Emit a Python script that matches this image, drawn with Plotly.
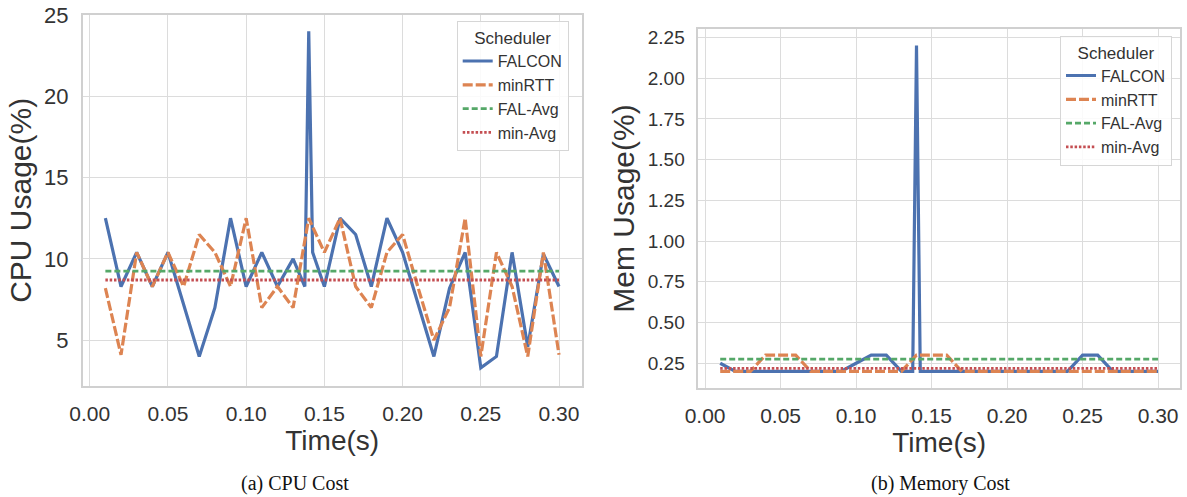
import plotly.graph_objects as go

# ---------------- data ----------------
cpu_time = [0.01, 0.02, 0.03, 0.04, 0.05, 0.06, 0.07, 0.08, 0.09, 0.10,
            0.11, 0.12, 0.13, 0.14, 0.15, 0.16, 0.17, 0.18, 0.19, 0.20,
            0.21, 0.22, 0.23, 0.24, 0.25, 0.26, 0.27, 0.28, 0.29, 0.30]
falcon_time = [0.01, 0.02, 0.03, 0.04, 0.05, 0.06, 0.07, 0.08, 0.09, 0.10,
               0.11, 0.12, 0.13, 0.1375, 0.14, 0.1425, 0.15, 0.16, 0.17, 0.18,
               0.19, 0.20, 0.21, 0.22, 0.23, 0.24, 0.25, 0.26, 0.27, 0.28,
               0.29, 0.30]
cpu_falcon = [12.5, 8.3, 10.4, 8.3, 10.4, 7.2, 4.0, 7.0, 12.5, 8.3,
              10.4, 8.3, 10.0, 8.3, 24.0, 10.4, 8.3, 12.5, 11.5, 8.3,
              12.5, 10.4, 7.2, 4.0, 8.2, 10.4, 3.3, 4.0, 10.4, 4.6,
              10.3, 8.3]
cpu_minrtt = [8.2, 4.1, 10.4, 8.3, 10.4, 8.3, 11.5, 10.4, 8.3, 12.5,
              7.0, 8.3, 7.0, 12.5, 10.4, 12.5, 8.3, 7.0, 10.4, 11.5,
              8.2, 5.0, 7.0, 12.5, 4.0, 10.4, 8.3, 4.0, 10.4, 4.1]
cpu_fal_avg = 9.25
cpu_min_avg = 8.7

mem_falcon = [0.25, 0.2, 0.2, 0.2, 0.2, 0.2, 0.2, 0.2, 0.2, 0.25,
              0.3, 0.3, 0.2, 0.2, 2.2, 0.2, 0.2, 0.2, 0.2, 0.2,
              0.2, 0.2, 0.2, 0.2, 0.2, 0.2, 0.3, 0.3, 0.2, 0.2,
              0.2, 0.2]
mem_minrtt = [0.2, 0.2, 0.2, 0.3, 0.3, 0.3, 0.2, 0.2, 0.2, 0.2,
              0.2, 0.2, 0.2, 0.3, 0.3, 0.3, 0.2, 0.2, 0.2, 0.2,
              0.2, 0.2, 0.2, 0.2, 0.2, 0.2, 0.2, 0.2, 0.2, 0.2]
mem_fal_avg = 0.276
mem_min_avg = 0.219

series_names = ["FALCON", "minRTT", "FAL-Avg", "min-Avg"]
x_ticks = [0.00, 0.05, 0.10, 0.15, 0.20, 0.25, 0.30]
cpu_ticks = [5, 10, 15, 20, 25]
mem_ticks = [0.25, 0.50, 0.75, 1.00, 1.25, 1.50, 1.75, 2.00, 2.25]
captions = ["(a) CPU Cost", "(b) Memory Cost"]

# ---------------- style ----------------
W, H = 1187, 497
BLUE, ORANGE, GREEN, RED = "#4c72b0", "#dd8452", "#55a868", "#c44e52"
GRID = "#dcdcdc"
FRAME = "#d0d0d0"
TXT = "#333333"
FONT = "Liberation Sans, Arial, sans-serif"

fig = go.Figure()


def add_panel(fig, xa, ya, leg, falcon, minrtt, fal_avg, min_avg):
    fig.add_trace(go.Scatter(x=falcon_time, y=falcon, name=series_names[0], mode="lines",
                             line=dict(color=BLUE, width=3.2), xaxis=xa, yaxis=ya, legend=leg))
    fig.add_trace(go.Scatter(x=cpu_time, y=minrtt, name=series_names[1], mode="lines",
                             line=dict(color=ORANGE, width=3.2, dash="10px,3px"),
                             xaxis=xa, yaxis=ya, legend=leg))
    fig.add_trace(go.Scatter(x=[cpu_time[0], cpu_time[-1]], y=[fal_avg, fal_avg], name=series_names[2],
                             mode="lines", line=dict(color=GREEN, width=2.8, dash="6px,3px"),
                             xaxis=xa, yaxis=ya, legend=leg))
    fig.add_trace(go.Scatter(x=[cpu_time[0], cpu_time[-1]], y=[min_avg, min_avg], name=series_names[3],
                             mode="lines", line=dict(color=RED, width=2.8, dash="2.5px,1.8px"),
                             xaxis=xa, yaxis=ya, legend=leg))


add_panel(fig, "x", "y", "legend", cpu_falcon, cpu_minrtt, cpu_fal_avg, cpu_min_avg)
add_panel(fig, "x2", "y2", "legend2", mem_falcon, mem_minrtt, mem_fal_avg, mem_min_avg)

xrange = [0.01 - 0.0145, 0.30 + 0.0145]


def xaxis_cfg(domain, anchor):
    return dict(domain=domain, anchor=anchor, range=xrange, tickvals=x_ticks,
                ticktext=[f"{v:.2f}" for v in x_ticks],
                showgrid=True, gridcolor=GRID, gridwidth=1.2, zeroline=False,
                showline=True, mirror=True, linecolor=FRAME, linewidth=1.5,
                ticks="outside", ticklen=8, tickcolor="rgba(0,0,0,0)",
                tickfont=dict(family=FONT, size=21, color=TXT),
                title=dict(text="Time(s)", font=dict(family=FONT, size=28, color=TXT), standoff=0),
                automargin=False)


def yaxis_cfg(domain, anchor, rng, ticks, fmt, size, title):
    return dict(domain=domain, anchor=anchor, range=rng, tickvals=ticks,
                ticktext=[fmt.format(v) for v in ticks],
                showgrid=True, gridcolor=GRID, gridwidth=1.2, zeroline=False,
                showline=True, mirror=True, linecolor=FRAME, linewidth=1.5,
                ticks="outside", ticklen=8, tickcolor="rgba(0,0,0,0)",
                tickfont=dict(family=FONT, size=size, color=TXT),
                title=dict(text=title, font=dict(family=FONT, size=30, color=TXT), standoff=4),
                automargin=False)


L = [82.7 / W, 581.7 / W]
R = [698.3 / W, 1180 / W]
LY = [1 - 385.7 / H, 1 - 15 / H]
RY = [1 - 387.7 / H, 1 - 29.3 / H]

legend_common = dict(bgcolor="rgba(255,255,255,0.85)", bordercolor="#d6d6d6", borderwidth=1,
                     font=dict(family=FONT, size=16, color=TXT), tracegroupgap=0,
                     itemwidth=30, xanchor="left", yanchor="top",
                     title=dict(text="Scheduler", side="top center",
                                font=dict(family=FONT, size=17, color=TXT)))

fig.update_layout(
    width=W, height=H,
    margin=dict(l=0, r=0, t=0, b=0),
    paper_bgcolor="white", plot_bgcolor="white",
    xaxis=xaxis_cfg(L, "y"),
    yaxis=yaxis_cfg(LY, "x", [2.2, 25.0], cpu_ticks, "{:d}", 22, "CPU Usage(%)"),
    xaxis2=xaxis_cfg(R, "y2"),
    yaxis2=yaxis_cfg(RY, "x2", [0.1, 2.3], mem_ticks, "{:.2f}", 19, "Mem Usage(%)"),
    legend=dict(x=456.7 / W, y=1 - 21 / H, **legend_common),
    legend2=dict(x=1060 / W, y=1 - 35.5 / H, **legend_common),
    showlegend=True,
)

for cx, txt in zip([295 / W, 940 / W], captions):
    fig.add_annotation(x=cx, y=1 - 483 / H, xref="paper", yref="paper", text=txt,
                       showarrow=False, xanchor="center", yanchor="middle",
                       font=dict(family="Liberation Serif, Times New Roman, serif", size=20, color="#111111"))

fig.write_html("out.html", config={"displayModeBar": False},
               post_script="document.body.style.margin='0';document.body.style.padding='0';"
                           "document.body.style.overflow='hidden';")
